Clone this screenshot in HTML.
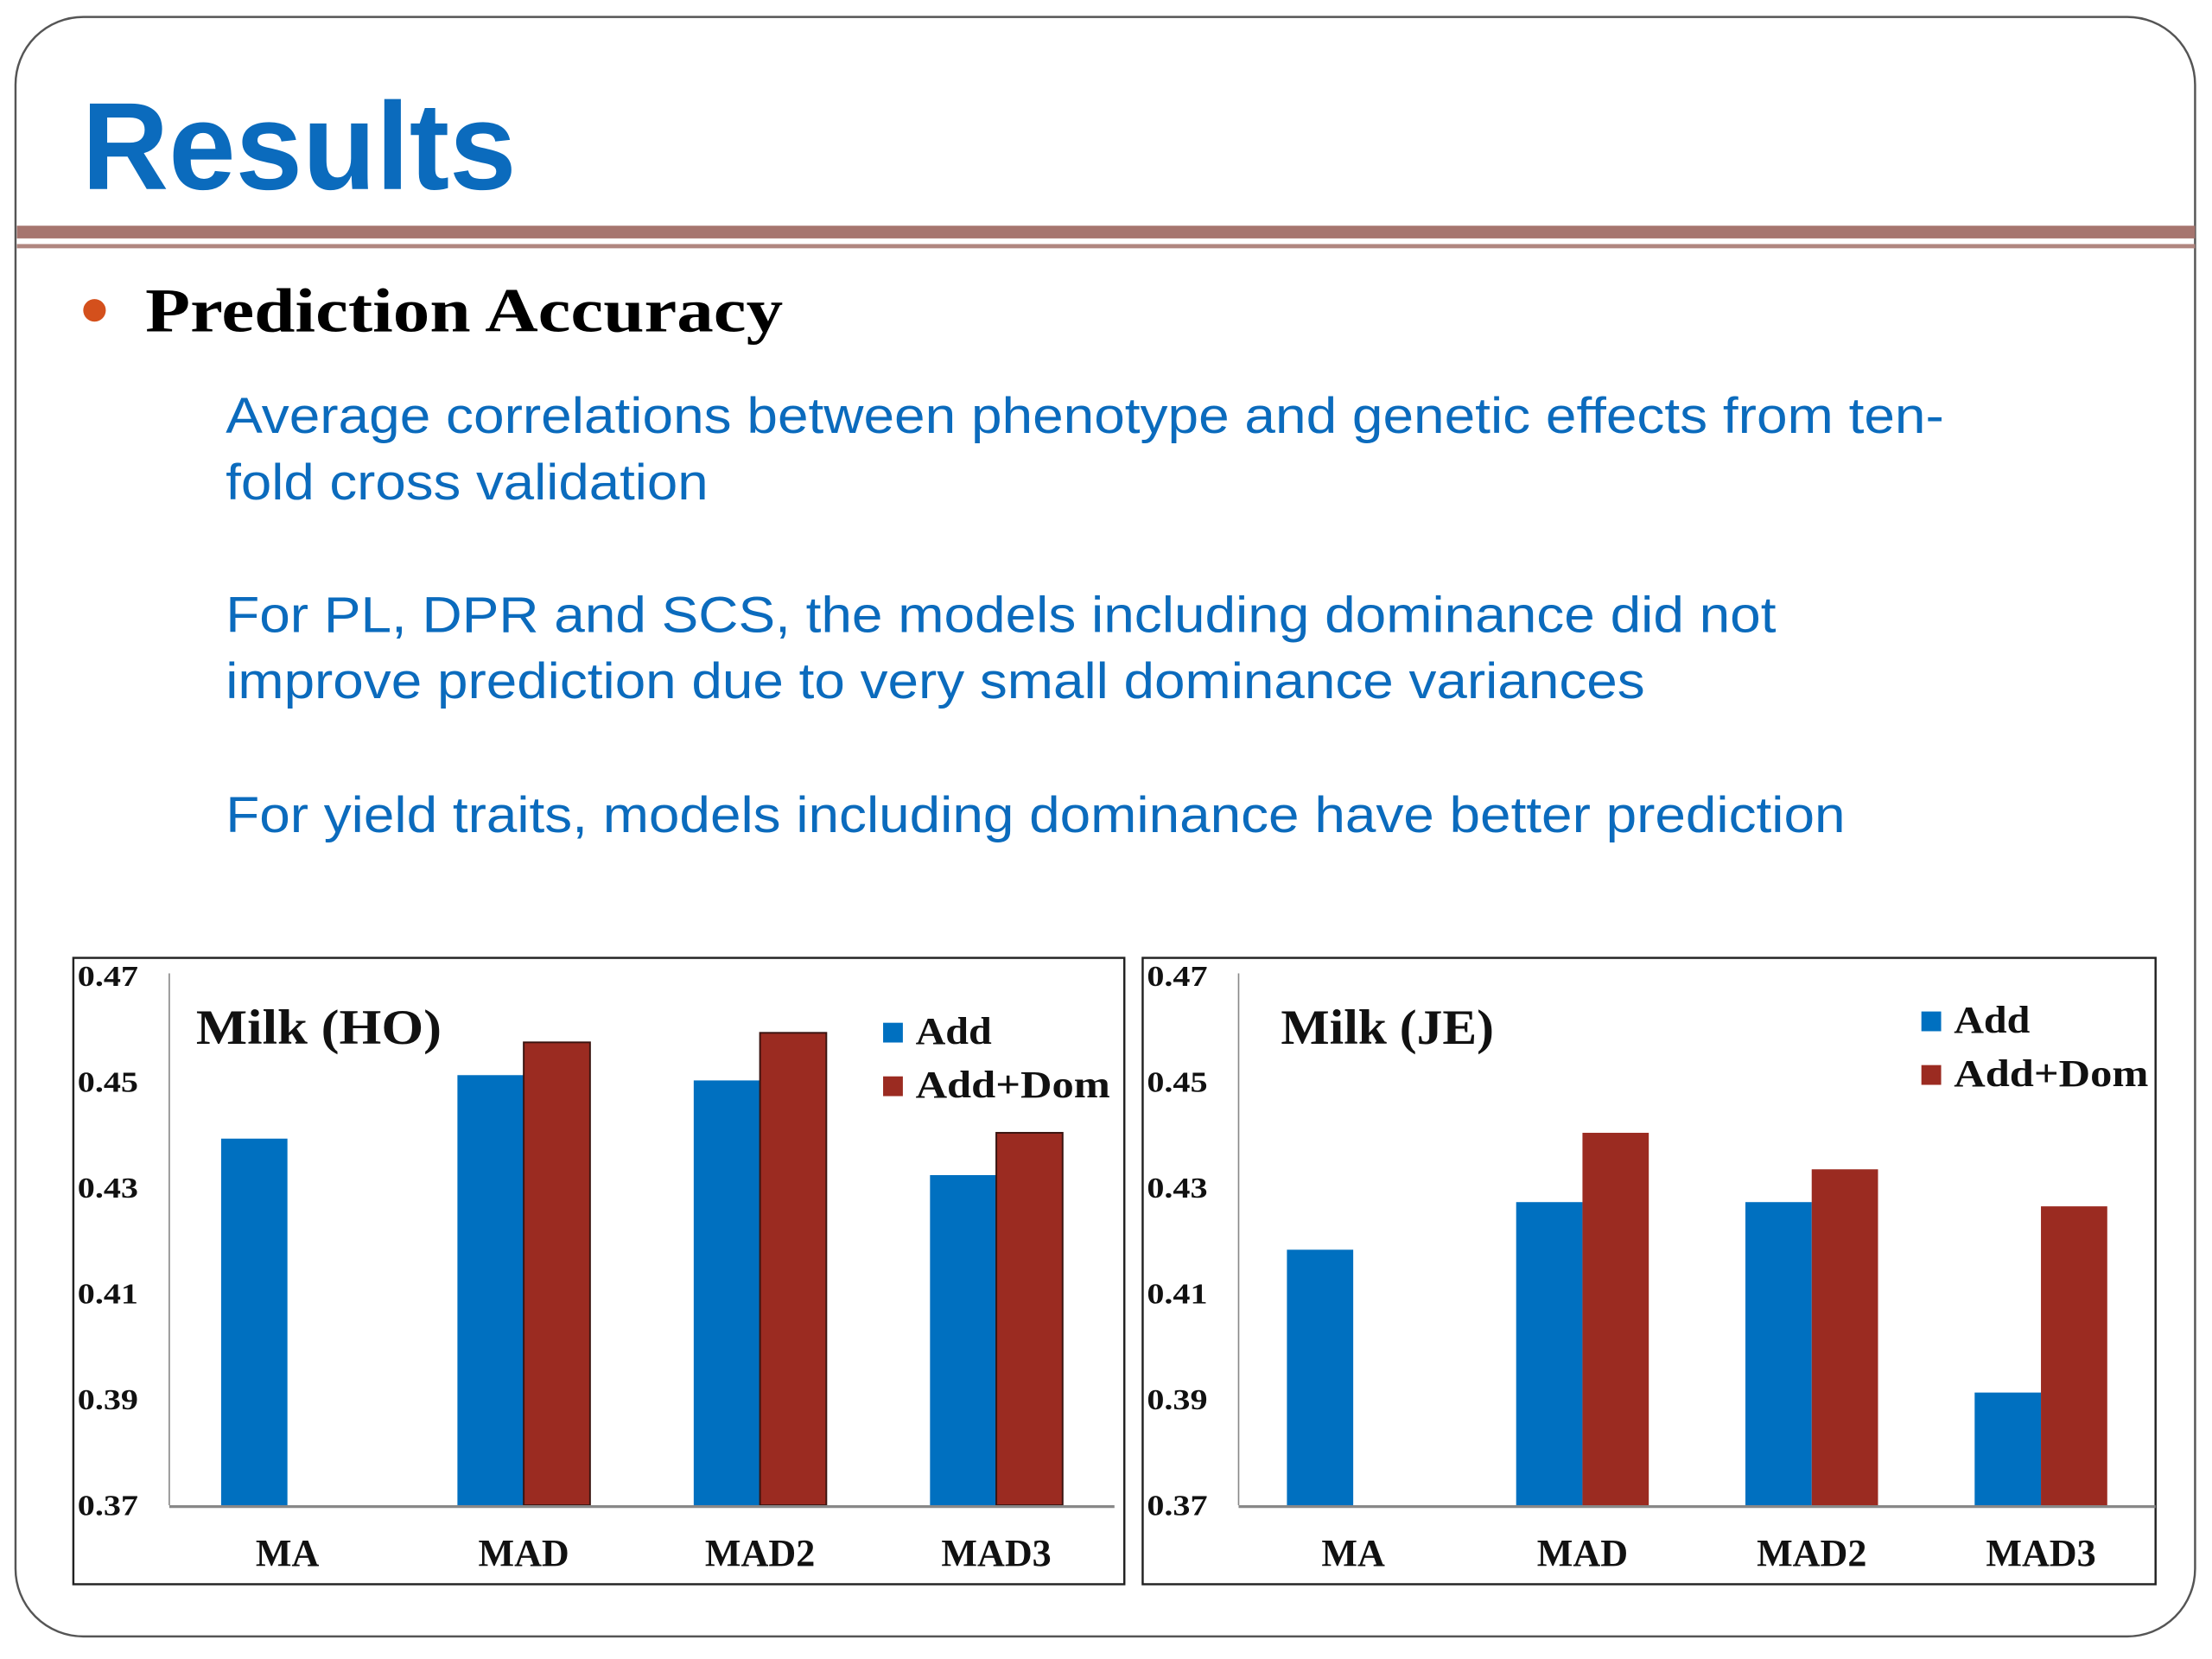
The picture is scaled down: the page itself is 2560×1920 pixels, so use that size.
<!DOCTYPE html>
<html><head><meta charset="utf-8"><style>
html,body{margin:0;padding:0;background:#fff;}
svg{display:block;}
.serif{font-family:"Liberation Serif",serif;font-weight:bold;}
.sans{font-family:"Liberation Sans",sans-serif;}
</style></head><body>
<svg id="slide" width="2560" height="1920" viewBox="0 0 1568 1176" preserveAspectRatio="none" xmlns="http://www.w3.org/2000/svg">
<rect x="11" y="12" width="1545" height="1148" rx="48" ry="48" fill="#fff" stroke="#555" stroke-width="1.5"/>
<text x="58" y="134" class="sans" font-weight="bold" font-size="88" fill="#0b6bbd" textLength="308" lengthAdjust="spacingAndGlyphs">Results</text>
<rect x="12" y="160" width="1544" height="9" fill="#a6756f"/>
<rect x="12" y="173" width="1544" height="3" fill="#b08680"/>
<circle cx="67" cy="220" r="8" fill="#d4501c"/>
<text x="103" y="235" class="serif" font-size="44" fill="#000" textLength="452" lengthAdjust="spacingAndGlyphs">Prediction Accuracy</text>
<g class="sans" font-size="36" fill="#0b6bbd">
<text x="160" y="307" textLength="1218" lengthAdjust="spacingAndGlyphs">Average correlations between phenotype and genetic effects from ten-</text>
<text x="160" y="354" textLength="342" lengthAdjust="spacingAndGlyphs">fold cross validation</text>
<text x="160" y="448" textLength="1099" lengthAdjust="spacingAndGlyphs">For PL, DPR and SCS, the models including dominance did not</text>
<text x="160" y="495" textLength="1006" lengthAdjust="spacingAndGlyphs">improve prediction due to very small dominance variances</text>
<text x="160" y="590" textLength="1148" lengthAdjust="spacingAndGlyphs">For yield traits, models including dominance have better prediction</text>
</g>
<g id="chart-ho"></g>
<g id="chart-je"></g>
</svg>
<script>
const categories = ["MA", "MAD", "MAD2", "MAD3"];
const yTicks = ["0.47", "0.45", "0.43", "0.41", "0.39", "0.37"];
const hoAdd = [0.4393, 0.4513, 0.4503, 0.4324];
const hoDom = [null, 0.4575, 0.4593, 0.4404];
const jeAdd = [0.4183, 0.4273, 0.4273, 0.3913];
const jeDom = [null, 0.4404, 0.4335, 0.4265];
const seriesNames = ["Add", "Add+Dom"];

const NS = "http://www.w3.org/2000/svg";
function mk(tag, attrs, parent, text) {
  const e = document.createElementNS(NS, tag);
  for (const k in attrs) e.setAttribute(k, attrs[k]);
  if (text !== undefined) e.textContent = text;
  parent.appendChild(e);
  return e;
}
function drawChart(g, cfg, addVals, domVals, title) {
  const yMin = 0.37, yMax = 0.47, y0 = 1067, y1 = 692;
  const yS = v => y0 - (v - yMin) / (yMax - yMin) * (y0 - y1);
  const band = (cfg.right - cfg.axisX) / categories.length;
  const xC = i => cfg.axisX + band * (i + 0.5);
  const bw = 47;
  const box = mk("rect", {x: cfg.boxX, y: 679, width: cfg.boxW, height: 444, fill: "#fff", stroke: "#222", "stroke-width": 1.5}, g);
  
  
  const ya = mk("line", {x1: cfg.axisX, y1: 690, x2: cfg.axisX, y2: y0, stroke: "#888", "stroke-width": 1}, g);
  
  
  yTicks.forEach(t => {
    const tx = mk("text", {x: cfg.boxX + 3, y: yS(parseFloat(t)) + 7, "font-size": 21, class: "serif", fill: "#111", textLength: 43, lengthAdjust: "spacingAndGlyphs"}, g, t);
    
    
  });
  categories.forEach((c, i) => {
    const ba = mk("rect", {x: xC(i) - bw, y: yS(addVals[i]), width: bw, height: y0 - yS(addVals[i]), fill: "#0070c0"}, g);
    
    
    if (domVals[i] !== null) {
      const bd = mk("rect", {x: xC(i), y: yS(domVals[i]), width: bw, height: y0 - yS(domVals[i]), fill: "#9b2b21", stroke: cfg.outline ? "#3a1410" : "none", "stroke-width": cfg.outline ? 1.2 : 0}, g);
      
      
    }
    const xl = mk("text", {x: xC(i), y: 1110, "text-anchor": "middle", "font-size": 27, class: "serif", fill: "#111"}, g, c);
    
    
  });
  const xa = mk("line", {x1: cfg.axisX, y1: y0 + 1, x2: cfg.right, y2: y0 + 1, stroke: "#888", "stroke-width": 2}, g);
  
  
  const tt = mk("text", {x: cfg.titleX, y: 740, "font-size": 35, class: "serif", fill: "#111", textLength: cfg.titleW, lengthAdjust: "spacingAndGlyphs"}, g, title);
  
  
  const colors = ["#0070c0", "#9b2b21"];
  const legW = [54, 138];
  seriesNames.forEach((s, k) => {
    const ly = cfg.legY + k * 38;
    const sw = mk("rect", {x: cfg.legX, y: ly - 15, width: 14, height: 14, fill: colors[k]}, g);
    
    
    const lt = mk("text", {x: cfg.legX + 23, y: ly, "font-size": 27, class: "serif", fill: "#111", textLength: legW[k], lengthAdjust: "spacingAndGlyphs"}, g, s);
    
    
  });
}
drawChart(document.getElementById("chart-ho"), {boxX: 52, boxW: 745, axisX: 120, right: 790, titleX: 139, titleW: 174, legX: 626, legY: 740, outline: true}, hoAdd, hoDom, "Milk (HO)");
drawChart(document.getElementById("chart-je"), {boxX: 810, boxW: 718, axisX: 878, right: 1528, titleX: 908, titleW: 151, legX: 1362, legY: 732, outline: false}, jeAdd, jeDom, "Milk (JE)");
</script>
</body></html>
